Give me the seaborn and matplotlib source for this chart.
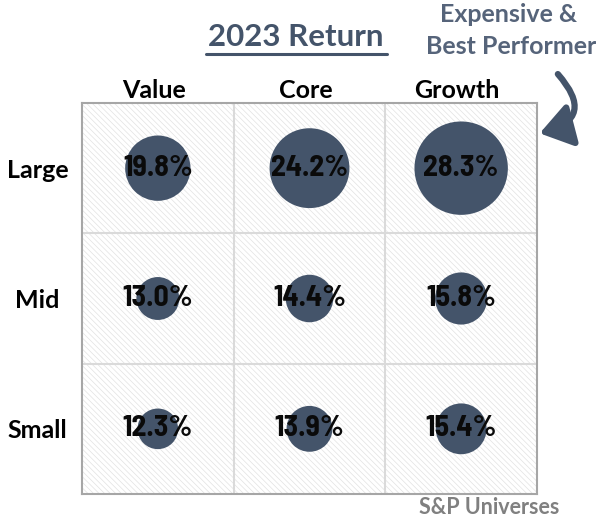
import matplotlib
matplotlib.use("Agg")
import matplotlib.pyplot as plt
import seaborn as sns
import pandas as pd
from matplotlib.patches import Rectangle, FancyArrowPatch
from matplotlib.transforms import ScaledTranslation

styles = ["Value", "Core", "Growth"]
sizes_ = ["Large", "Mid", "Small"]
large = [19.8, 24.2, 28.3]
mid = [13.0, 14.4, 15.8]
small = [12.3, 13.9, 15.4]

rows = []
for r, vals in zip(sizes_, [large, mid, small]):
    for c, v in zip(styles, vals):
        rows.append({"style": c, "size": r, "ret": v,
                     "xi": styles.index(c), "yi": sizes_.index(r)})
df = pd.DataFrame(rows)

sns.set_style("white")
plt.rcParams["hatch.linewidth"] = 0.5
plt.rcParams["hatch.color"] = "#E2E2E2"
SANS = ["Lato", "DejaVu Sans"]
NARROW = ["Barlow Semi Condensed", "DejaVu Sans"]

fig = plt.figure(figsize=(5.96, 5.28), dpi=100)
ax = fig.add_axes([82/596, 1-494/528, (537-82)/596, (494-103)/528])

ax.add_patch(Rectangle((-0.5, -0.5), 3, 3, facecolor="white", edgecolor="#E2E2E2",
                       hatch="\\\\\\\\\\\\", lw=0, zorder=0))
for p in [0.5, 1.5]:
    ax.axvline(p, color="#DADADA", lw=1.5, zorder=1)
    ax.axhline(p, color="#DADADA", lw=1.5, zorder=1)

k = 3.3 * 0.72  # diameter in points per percent
s = [(k * v) ** 2 for v in df["ret"]]
sns.scatterplot(data=df, x="xi", y="yi", s=s, color="#44546A", edgecolor="none",
                legend=False, ax=ax, zorder=3)

for _, row in df.iterrows():
    ax.text(row["xi"], row["yi"], f"{row['ret']:.1f}%", ha="center", va="center",
            fontsize=21.5, fontweight="bold", color="#0A0A0A", family=NARROW, zorder=4)

ax.set_xlim(-0.5, 2.5)
ax.set_ylim(2.5, -0.5)
ax.set_xlabel("")
ax.set_ylabel("")
ax.xaxis.tick_top()
ax.set_xticks(range(3))
ax.set_xticklabels(styles, fontsize=18, fontweight="bold", family=SANS, color="#000000")
ax.set_yticks(range(3))
ax.set_yticklabels(sizes_, fontsize=18, fontweight="bold", family=SANS, ha="center", color="#000000")
ax.tick_params(axis="x", length=0, pad=0.5)
ax.tick_params(axis="y", length=0, pad=32)
shift = ScaledTranslation(-4/100, 0, fig.dpi_scale_trans)
for lbl in ax.get_xticklabels():
    lbl.set_transform(lbl.get_transform() + shift)
for sp in ax.spines.values():
    sp.set_color("#A6A6A6")
    sp.set_linewidth(1.5)
    sp.set_visible(True)

fig.text(296/596, 1-37/528, "2023 Return", ha="center", va="center", fontsize=22.5,
         fontweight="bold", color="#44546A", family=SANS)
fig.add_artist(plt.Line2D([206/596, 387/596], [1-54/528, 1-54/528], color="#44546A", lw=2.2))

fig.text(509/596, 1-15/528, "Expensive &", ha="center", va="center", fontsize=18,
         fontweight="bold", color="#56647A", family=SANS)
fig.text(511/596, 1-46/528, "Best Performer", ha="center", va="center", fontsize=18,
         fontweight="bold", color="#56647A", family=SANS)
fig.add_artist(FancyArrowPatch(
    (556/596, 1-72/528), (537/596, 1-134/528), transform=fig.transFigure,
    connectionstyle="arc3,rad=-0.85", arrowstyle="-|>,head_length=8,head_width=5.5",
    color="#44546A", lw=4.5, mutation_scale=2.4))

fig.text(489/596, 1-508/528, "S&P Universes", ha="center", va="center", fontsize=15.5,
         fontweight="bold", color="#808080", family=SANS)

fig.savefig("out.png", dpi=100)
